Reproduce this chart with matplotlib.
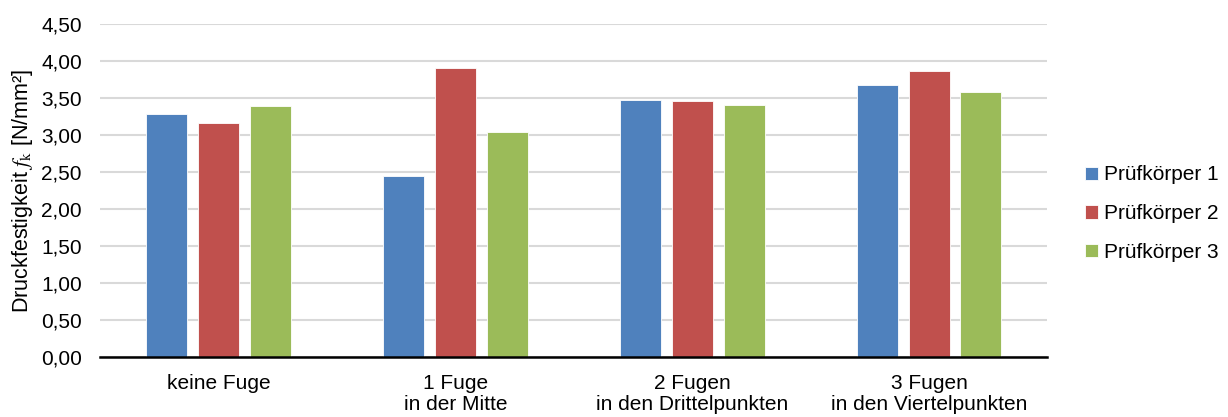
import matplotlib.pyplot as plt
import numpy as np

plt.rcParams['font.family'] = ['Liberation Sans', 'DejaVu Sans']
plt.rcParams['mathtext.fontset'] = 'stix'

groups = ['keine Fuge', '1 Fuge\nin der Mitte', '2 Fugen\nin den Drittelpunkten',
          '3 Fugen\nin den Viertelpunkten']
series = ['Prüfkörper 1', 'Prüfkörper 2', 'Prüfkörper 3']
pk1 = [3.29, 2.44, 3.47, 3.67]
pk2 = [3.16, 3.90, 3.46, 3.87]
pk3 = [3.39, 3.04, 3.40, 3.58]
colors = ['#4F81BD', '#C0504D', '#9BBB59']
yticks = [0.0, 0.5, 1.0, 1.5, 2.0, 2.5, 3.0, 3.5, 4.0, 4.5]

fig = plt.figure(figsize=(12.28, 4.17), dpi=100)
ax = fig.add_axes([0.0814, 0.144, 0.7716, 0.7984])

x = np.arange(len(groups))
w = 0.173
step = 0.219
for i, (vals, name) in enumerate(zip([pk1, pk2, pk3], series)):
    ax.bar(x + (i - 1) * step, vals, width=w, color=colors[i], label=name,
           edgecolor='white', linewidth=0.6, zorder=3)

ax.set_xlim(-0.5, 3.5)
ax.set_ylim(0, 4.5)
ax.set_yticks(yticks)
ax.set_yticklabels(['{:.2f}'.format(v).replace('.', ',') for v in yticks], fontsize=15)
ax.set_xticks(x)
ax.set_xticklabels(groups, fontsize=15, linespacing=1.15, va='top')
ax.tick_params(length=0)
ax.tick_params(axis='y', pad=13)
ax.tick_params(axis='x', pad=12)
ax.yaxis.grid(True, color='#d9d9d9', linewidth=1.5, zorder=0)
for s in ['top', 'right', 'left']:
    ax.spines[s].set_visible(False)
ax.spines['bottom'].set_linewidth(1.8)
ax.spines['bottom'].set_zorder(4)
ax.set_ylabel(r'Druckfestigkeit $f_{\mathrm{k}}$ [N/mm²]', fontsize=15.5, labelpad=4)

ax.legend(loc='center left', bbox_to_anchor=(1.02, 0.43), frameon=False, fontsize=15,
          handlelength=0.6, handleheight=0.6, handletextpad=0.3, labelspacing=0.95)

fig.savefig('out.png', dpi=100)
